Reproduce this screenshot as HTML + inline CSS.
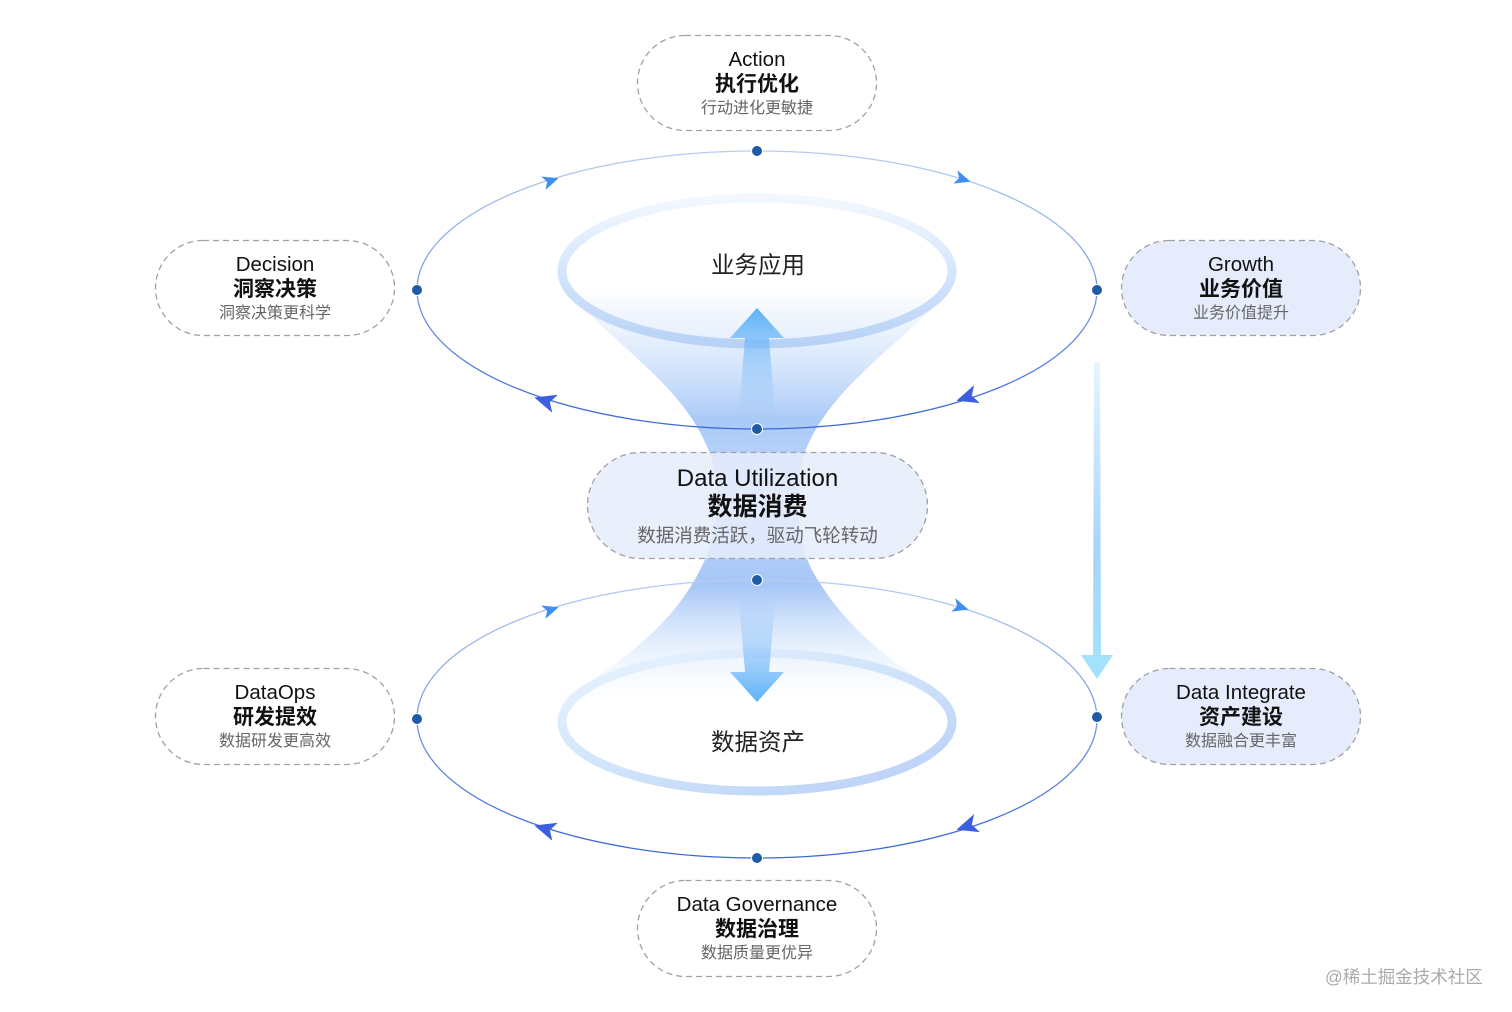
<!DOCTYPE html>
<html><head><meta charset="utf-8"><style>
html,body{margin:0;padding:0;background:#fff;}
body{width:1512px;height:1012px;position:relative;overflow:hidden;font-family:"Liberation Sans","Noto Sans CJK SC",sans-serif;}
.box{position:absolute;width:240px;height:96px;box-sizing:border-box;text-align:center;}
.en{font-size:20.5px;color:#111;margin-top:13px;line-height:24px;}
.cn{font-size:21px;color:#111;font-weight:bold;line-height:25px;}
.sub{font-size:16px;color:#666;line-height:24px;}
.lbl{position:absolute;font-size:23.5px;color:#222;}
</style></head><body>
<svg width="1512" height="1012" style="position:absolute;left:0;top:0">
<defs>
<linearGradient id="ring" x1="0" y1="0" x2="1" y2="1">
<stop offset="0" stop-color="#eaf4ff"/><stop offset="0.5" stop-color="#cfe3fb"/><stop offset="1" stop-color="#b9cff6"/></linearGradient>
<linearGradient id="ringT" x1="0" y1="0" x2="0" y2="1">
<stop offset="0" stop-color="#f3f8ff"/><stop offset="0.6" stop-color="#cfe2fb"/><stop offset="1" stop-color="#b8d2f6"/></linearGradient>
<linearGradient id="orb" x1="0" y1="0" x2="0" y2="1">
<stop offset="0" stop-color="#b6cdf2"/><stop offset="1" stop-color="#3a66d6"/></linearGradient>
<linearGradient id="fun" x1="0" y1="290" x2="0" y2="700" gradientUnits="userSpaceOnUse">
<stop offset="0" stop-color="#c9def9" stop-opacity="0"/>
<stop offset="0.1" stop-color="#d4e5fb" stop-opacity="0.5"/>
<stop offset="0.32" stop-color="#a9c9f7"/>
<stop offset="0.5" stop-color="#c6dcfa"/>
<stop offset="0.72" stop-color="#a6c6f7"/>
<stop offset="0.88" stop-color="#d3e5fc" stop-opacity="0.5"/>
<stop offset="1" stop-color="#e5f0fe" stop-opacity="0"/>
</linearGradient>
<linearGradient id="upA" x1="0" y1="308" x2="0" y2="425" gradientUnits="userSpaceOnUse">
<stop offset="0" stop-color="#5cb1f8"/><stop offset="1" stop-color="#9cc7f8" stop-opacity="0"/></linearGradient>
<linearGradient id="dnA" x1="0" y1="590" x2="0" y2="702" gradientUnits="userSpaceOnUse">
<stop offset="0" stop-color="#9cc7f8" stop-opacity="0"/><stop offset="1" stop-color="#5cb1f8"/></linearGradient>
<linearGradient id="vA" x1="0" y1="362" x2="0" y2="680" gradientUnits="userSpaceOnUse">
<stop offset="0" stop-color="#e6f6ff"/><stop offset="0.6" stop-color="#a6d4fb"/><stop offset="1" stop-color="#a3e4fb"/></linearGradient>
<g id="arr"><polygon points="9,0 -7,-7 -3,0 -7,7"/></g>
</defs>

<path d="M565,290 C620,350 690,390 712,460 C722,500 716,540 700,570 C670,630 610,670 560,700 L955,700 C900,670 845,630 812,570 C797,540 795,500 802,460 C825,390 895,350 950,290 Z" fill="url(#fun)"/>

<ellipse cx="757" cy="271" rx="195" ry="73" fill="none" stroke="url(#ringT)" stroke-width="9"/>
<ellipse cx="757" cy="722" rx="195" ry="69" fill="none" stroke="url(#ring)" stroke-width="9"/>

<path d="M757,308 L784,338 L769,338 L776,425 L738,425 L745,338 L730,338 Z" fill="url(#upA)"/>
<path d="M757,702 L784,672 L769,672 L776,590 L738,590 L745,672 L730,672 Z" fill="url(#dnA)"/>

<ellipse cx="757" cy="290" rx="340" ry="139" fill="none" stroke="url(#orb)" stroke-width="1.3"/>
<ellipse cx="757" cy="719" rx="340" ry="139" fill="none" stroke="url(#orb)" stroke-width="1.3"/>

<g fill="#3f8ff0">
<use href="#arr" transform="translate(550,181) rotate(-18)"/>
<use href="#arr" transform="translate(962,179) rotate(17)"/>
<use href="#arr" transform="translate(550,610) rotate(-18)"/>
<use href="#arr" transform="translate(960,607) rotate(17)"/>
</g>
<g fill="#3b5fe0">
<use href="#arr" transform="translate(546,401) rotate(197) scale(1.35)"/>
<use href="#arr" transform="translate(968,397) rotate(162) scale(1.35)"/>
<use href="#arr" transform="translate(546,829) rotate(197) scale(1.35)"/>
<use href="#arr" transform="translate(968,826) rotate(162) scale(1.35)"/>
</g>

<path d="M1094,362 L1100,362 L1101,655 L1113,655 L1097,679 L1081,655 L1093,655 Z" fill="url(#vA)"/>

<g stroke="#a0a0a6" stroke-width="1.3" stroke-dasharray="6 4">
<rect x="637.5" y="35.5" width="239" height="95" rx="47.5" fill="none"/>
<rect x="155.5" y="240.5" width="239" height="95" rx="47.5" fill="none"/>
<rect x="1121.5" y="240.5" width="239" height="95" rx="47.5" fill="#e6ecfb"/>
<rect x="155.5" y="668.5" width="239" height="96" rx="48" fill="none"/>
<rect x="1121.5" y="668.5" width="239" height="96" rx="48" fill="#e6ecfb"/>
<rect x="637.5" y="880.5" width="239" height="96" rx="48" fill="none"/>
<rect x="587.5" y="452.5" width="340" height="106" rx="53" fill="#e6ecfb" fill-opacity="0.85"/>
</g>

<g fill="#1f5aa6" stroke="#fff" stroke-width="1">
<circle cx="757" cy="151" r="5.5"/><circle cx="757" cy="429" r="5.5"/>
<circle cx="417" cy="290" r="5.5"/><circle cx="1097" cy="290" r="5.5"/>
<circle cx="757" cy="580" r="5.5"/><circle cx="757" cy="858" r="5.5"/>
<circle cx="417" cy="719" r="5.5"/><circle cx="1097" cy="717" r="5.5"/>
</g>
</svg>

<div class="lbl" style="left:711px;top:246px;">业务应用</div>
<div class="lbl" style="left:711px;top:723px;">数据资产</div>

<div class="box" style="left:637px;top:35px;"><div class="en">Action</div><div class="cn">执行优化</div><div class="sub">行动进化更敏捷</div></div>
<div class="box" style="left:155px;top:240px;"><div class="en">Decision</div><div class="cn">洞察决策</div><div class="sub">洞察决策更科学</div></div>
<div class="box" style="left:1121px;top:240px;"><div class="en">Growth</div><div class="cn">业务价值</div><div class="sub">业务价值提升</div></div>
<div class="box" style="left:155px;top:668px;"><div class="en">DataOps</div><div class="cn">研发提效</div><div class="sub">数据研发更高效</div></div>
<div class="box" style="left:1121px;top:668px;"><div class="en">Data Integrate</div><div class="cn">资产建设</div><div class="sub">数据融合更丰富</div></div>
<div class="box" style="left:637px;top:880px;"><div class="en">Data Governance</div><div class="cn">数据治理</div><div class="sub">数据质量更优异</div></div>
<div class="box" style="left:587px;top:452px;width:341px;height:107px;">
<div style="font-size:24px;color:#111;margin-top:13px;line-height:28px;">Data Utilization</div>
<div style="font-size:25px;font-weight:bold;color:#111;line-height:29px;">数据消费</div>
<div style="font-size:18.5px;color:#666;line-height:28px;">数据消费活跃，驱动飞轮转动</div></div>

<div style="position:absolute;left:1325px;top:964px;font-size:17.5px;color:#aaa;">@稀土掘金技术社区</div>
</body></html>
